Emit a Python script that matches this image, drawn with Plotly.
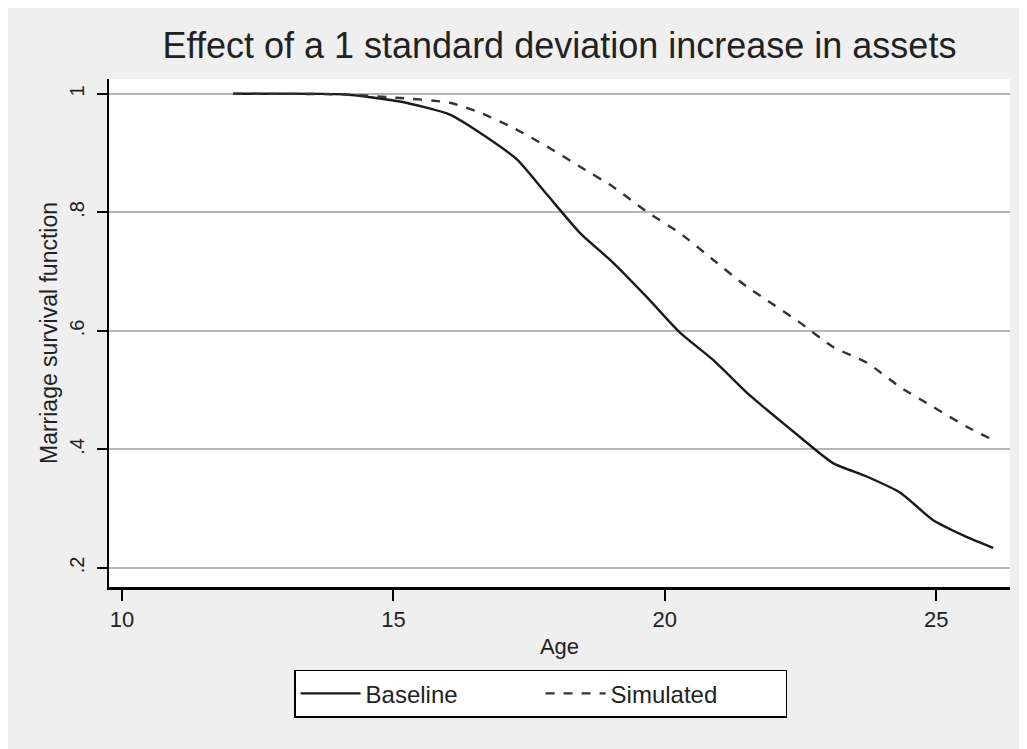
import plotly.graph_objects as go

# Age (years)
baseline_age = [12.05, 14.07, 15.12, 16.04, 16.65, 17.28, 17.83, 18.44, 19.05, 19.67,
                20.28, 20.89, 21.52, 21.88, 22.49, 23.10, 23.73, 24.34, 24.94, 25.57, 26.05]
baseline_surv = [1.0, 0.999, 0.987, 0.965, 0.931, 0.889, 0.830, 0.765, 0.715, 0.657,
                 0.597, 0.551, 0.495, 0.467, 0.421, 0.377, 0.354, 0.327, 0.281, 0.252, 0.234]

simulated_age = [12.05, 14.07, 15.12, 16.04, 16.60, 17.20, 17.83, 18.44, 19.05, 19.67,
                 20.28, 20.89, 21.52, 21.88, 22.49, 23.10, 23.73, 24.34, 24.94, 25.57, 26.05]
simulated_surv = [1.0, 0.999, 0.993, 0.985, 0.968, 0.943, 0.911, 0.877, 0.843, 0.801,
                  0.765, 0.720, 0.674, 0.652, 0.614, 0.573, 0.546, 0.505, 0.472, 0.438, 0.416]

x_ticks = [10, 15, 20, 25]
x_tick_labels = ["10", "15", "20", "25"]
y_ticks = [0.2, 0.4, 0.6, 0.8, 1.0]
y_tick_labels = [".2", ".4", ".6", ".8", "1"]

FONT = "Liberation Sans, Arial, sans-serif"

fig = go.Figure()
fig.add_trace(go.Scatter(x=baseline_age, y=baseline_surv, mode="lines", name="Baseline",
                         line=dict(color="#1a1a1a", width=2.4, shape="spline", smoothing=0.6)))
fig.add_trace(go.Scatter(x=simulated_age, y=simulated_surv, mode="lines", name="Simulated",
                         line=dict(color="#333333", width=2.4, dash="dash", shape="spline", smoothing=0.6)))

fig.update_layout(
    width=1027, height=749,
    paper_bgcolor="#efefef", plot_bgcolor="white",
    margin=dict(l=101, r=25, t=71, b=170),
    font=dict(family=FONT, color="#222222"),
    title=dict(text="Effect of a 1 standard deviation increase in assets",
               x=0.537, xanchor="center", y=1 - 37 / 749, yanchor="middle",
               font=dict(size=36, family=FONT, color="#222222")),
    xaxis=dict(range=[9.76, 26.36], tickvals=x_ticks, ticktext=x_tick_labels,
               showgrid=False, zeroline=False, showline=True, linecolor="black", linewidth=2.5,
               ticks="outside", ticklen=11, tickcolor="black", tickwidth=1.5,
               tickfont=dict(size=22), title=dict(text="Age", font=dict(size=22), standoff=8)),
    yaxis=dict(range=[0.168, 1.025], tickvals=y_ticks, ticktext=y_tick_labels, tickangle=-90,
               showgrid=True, gridcolor="#b5b5b5", gridwidth=2, zeroline=False,
               showline=True, linecolor="black", linewidth=1.5,
               ticks="outside", ticklen=10, tickcolor="black", tickwidth=1.5,
               tickfont=dict(size=20), ticklabelstandoff=5,
               title=dict(text="Marriage survival function", font=dict(size=23), standoff=2)),
    legend=dict(orientation="h", x=0.479, xanchor="center", y=-0.163, yanchor="top",
                bgcolor="white", bordercolor="black", borderwidth=1.5,
                font=dict(size=24), entrywidth=170, itemwidth=60),
)

fig.write_html("out.html")
